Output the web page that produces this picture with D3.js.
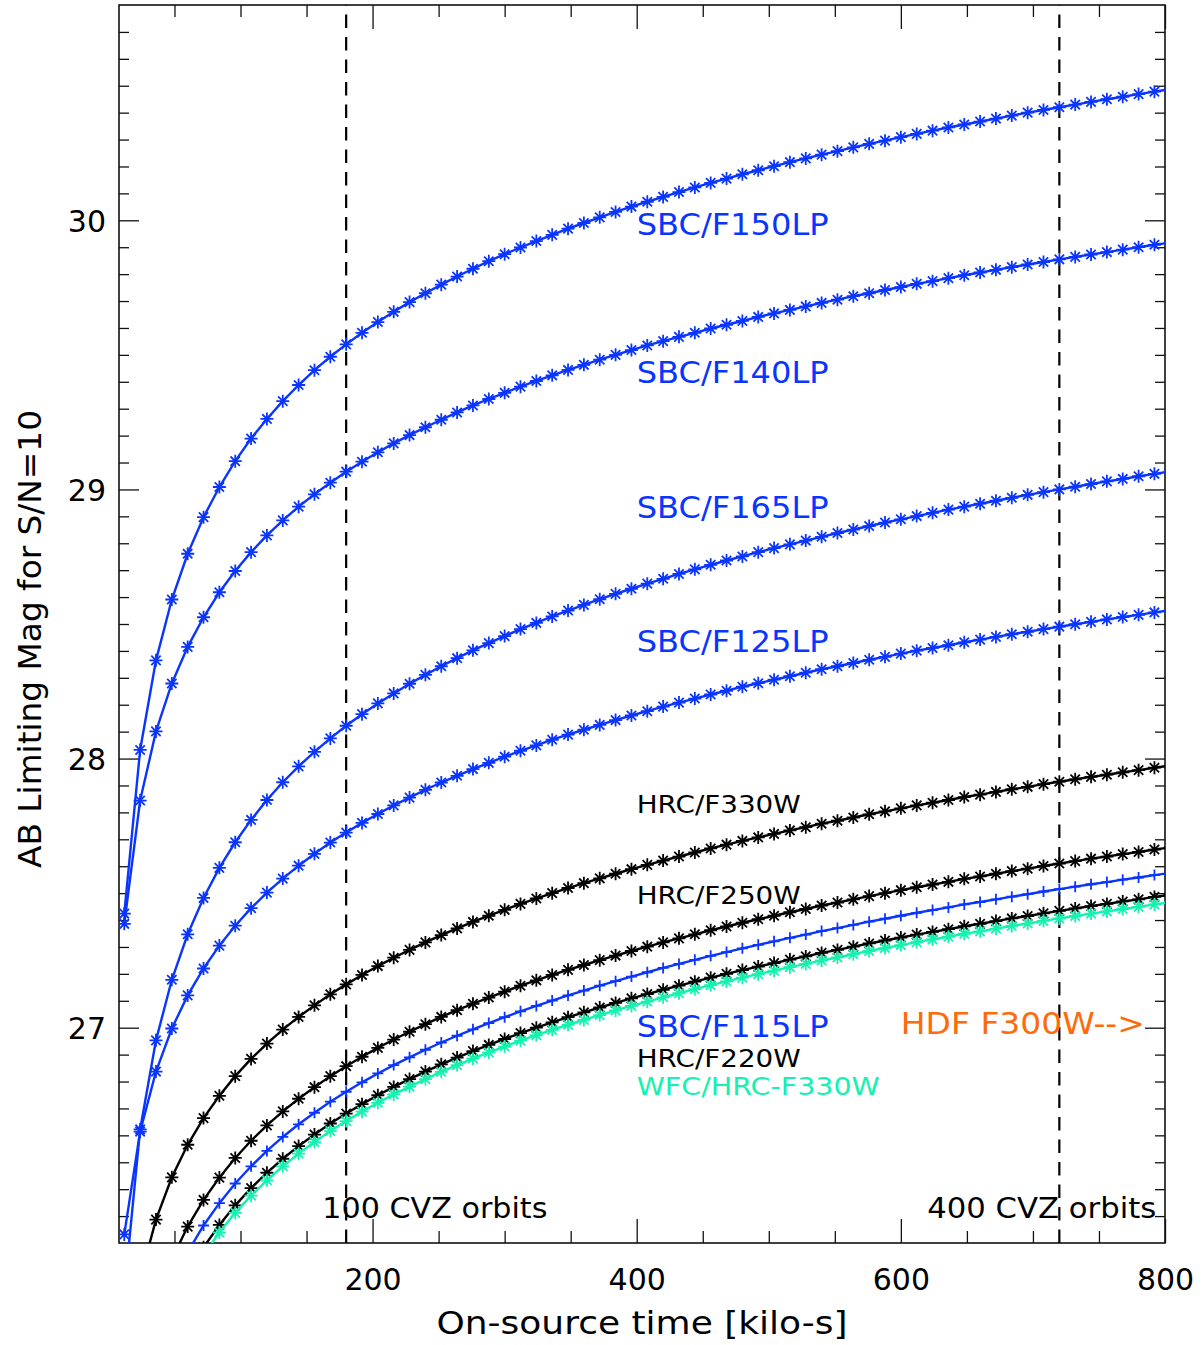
<!DOCTYPE html>
<html>
<head>
<meta charset="utf-8">
<script src="https://cdn.jsdelivr.net/npm/d3@7"></script>
<style>
  body { margin: 0; background: #fff; }
  text { font-family: "DejaVu Sans", sans-serif; }
</style>
</head>
<body>
<svg id="chart" width="1204" height="1345"></svg>
<script>
// on-source time of each plotted point, kilo-seconds
const times = [12,24,36,48,60,72,84,96,108,120,132,144,156,168,180,192,204,216,228,240,
  252,264,276,288,300,312,324,336,348,360,372,384,396,408,420,432,444,456,468,480,
  492,504,516,528,540,552,564,576,588,600,612,624,636,648,660,672,684,696,708,720,
  732,744,756,768,780,792,804];

// AB limiting magnitude (S/N=10) per filter
const sbcF150LP = [27.424,28.032,28.365,28.591,28.761,28.897,29.009,29.105,29.189,29.262,
  29.328,29.388,29.443,29.493,29.539,29.582,29.622,29.660,29.696,29.729,
  29.761,29.791,29.820,29.848,29.874,29.899,29.923,29.946,29.969,29.990,
  30.011,30.031,30.051,30.069,30.087,30.105,30.122,30.139,30.155,30.171,
  30.186,30.201,30.216,30.230,30.244,30.257,30.271,30.284,30.296,30.309,
  30.321,30.333,30.345,30.356,30.367,30.378,30.389,30.400,30.410,30.420,
  30.430,30.440,30.450,30.459,30.469,30.478,30.487];
const sbcF140LP = [27.386,27.844,28.101,28.279,28.415,28.525,28.618,28.697,28.767,28.829,
  28.885,28.936,28.982,29.025,29.066,29.103,29.138,29.171,29.202,29.231,
  29.259,29.286,29.312,29.336,29.359,29.382,29.403,29.424,29.444,29.463,
  29.482,29.500,29.518,29.535,29.551,29.567,29.582,29.598,29.612,29.626,
  29.641,29.654,29.667,29.680,29.693,29.705,29.718,29.729,29.741,29.752,
  29.764,29.774,29.785,29.796,29.806,29.816,29.826,29.836,29.845,29.855,
  29.864,29.873,29.882,29.891,29.900,29.909,29.917];
const sbcF165LP = [26.017,26.622,26.953,27.178,27.347,27.482,27.594,27.689,27.772,27.846,
  27.912,27.971,28.025,28.075,28.122,28.165,28.205,28.242,28.278,28.311,
  28.343,28.373,28.402,28.429,28.455,28.481,28.504,28.528,28.550,28.571,
  28.592,28.612,28.631,28.650,28.668,28.686,28.703,28.720,28.736,28.751,
  28.767,28.782,28.796,28.810,28.824,28.838,28.851,28.864,28.877,28.889,
  28.901,28.913,28.925,28.936,28.947,28.958,28.969,28.980,28.990,29.000,
  29.010,29.020,29.030,29.039,29.049,29.058,29.067];
const sbcF125LP = [26.232,26.614,26.837,26.997,27.120,27.220,27.305,27.379,27.444,27.502,
  27.554,27.602,27.646,27.688,27.725,27.761,27.794,27.826,27.855,27.884,
  27.911,27.936,27.961,27.984,28.007,28.029,28.049,28.070,28.089,28.107,
  28.125,28.143,28.160,28.176,28.193,28.208,28.223,28.238,28.252,28.267,
  28.280,28.293,28.306,28.319,28.332,28.343,28.355,28.367,28.378,28.390,
  28.401,28.411,28.421,28.432,28.442,28.452,28.462,28.471,28.481,28.490,
  28.499,28.508,28.517,28.526,28.534,28.543,28.551];
const hrcF330W = [25.691,26.067,26.287,26.444,26.565,26.664,26.747,26.820,26.884,26.941,
  26.993,27.040,27.083,27.124,27.161,27.196,27.229,27.260,27.289,27.317,
  27.344,27.369,27.393,27.416,27.438,27.460,27.480,27.500,27.519,27.537,
  27.555,27.572,27.589,27.605,27.621,27.636,27.651,27.666,27.680,27.694,
  27.707,27.720,27.733,27.745,27.758,27.769,27.781,27.793,27.804,27.815,
  27.826,27.836,27.846,27.857,27.866,27.876,27.886,27.895,27.905,27.914,
  27.923,27.932,27.940,27.949,27.957,27.966,27.974];
const hrcF250W = [25.387,25.763,25.983,26.140,26.261,26.360,26.443,26.516,26.580,26.637,
  26.689,26.736,26.779,26.820,26.857,26.892,26.925,26.956,26.985,27.013,
  27.040,27.065,27.089,27.112,27.134,27.156,27.176,27.196,27.215,27.233,
  27.251,27.268,27.285,27.301,27.317,27.332,27.347,27.362,27.376,27.390,
  27.403,27.416,27.429,27.441,27.454,27.465,27.477,27.489,27.500,27.511,
  27.522,27.532,27.542,27.553,27.562,27.572,27.582,27.591,27.601,27.610,
  27.619,27.628,27.636,27.645,27.653,27.662,27.670];
const sbcF115LP = [25.292,25.668,25.888,26.045,26.166,26.265,26.348,26.421,26.485,26.542,
  26.594,26.641,26.684,26.725,26.762,26.797,26.830,26.861,26.890,26.918,
  26.945,26.970,26.994,27.017,27.039,27.061,27.081,27.101,27.120,27.138,
  27.156,27.173,27.190,27.206,27.222,27.237,27.252,27.267,27.281,27.295,
  27.308,27.321,27.334,27.346,27.359,27.370,27.382,27.394,27.405,27.416,
  27.427,27.437,27.447,27.458,27.467,27.477,27.487,27.496,27.506,27.515,
  27.524,27.533,27.541,27.550,27.558,27.567,27.575];
const hrcF220W = [25.211,25.587,25.807,25.964,26.085,26.184,26.267,26.340,26.404,26.461,
  26.513,26.560,26.603,26.644,26.681,26.716,26.749,26.780,26.809,26.837,
  26.864,26.889,26.913,26.936,26.958,26.980,27.000,27.020,27.039,27.057,
  27.075,27.092,27.109,27.125,27.141,27.156,27.171,27.186,27.200,27.214,
  27.227,27.240,27.253,27.265,27.278,27.289,27.301,27.313,27.324,27.335,
  27.346,27.356,27.366,27.377,27.386,27.396,27.406,27.415,27.425,27.434,
  27.443,27.452,27.460,27.469,27.477,27.486,27.494];
const wfcHrcF330W = [25.183,25.559,25.779,25.936,26.057,26.156,26.239,26.312,26.376,26.433,
  26.485,26.532,26.575,26.616,26.653,26.688,26.721,26.752,26.781,26.809,
  26.836,26.861,26.885,26.908,26.930,26.952,26.972,26.992,27.011,27.029,
  27.047,27.064,27.081,27.097,27.113,27.128,27.143,27.158,27.172,27.186,
  27.199,27.212,27.225,27.237,27.250,27.261,27.273,27.285,27.296,27.307,
  27.318,27.328,27.338,27.349,27.358,27.368,27.378,27.387,27.397,27.406,
  27.415,27.424,27.432,27.441,27.449,27.458,27.466];

const xMajorTicks = [200, 400, 600, 800];
const xMinorTicks = [50, 100, 150, 250, 300, 350, 450, 500, 550, 650, 700, 750];
const yMajorTicks = [27, 28, 29, 30];
const orbitTimes = [180, 720];
const orbitLabels = ["100 CVZ orbits", "400 CVZ orbits"];

const blue = "#0a35ff", cyan = "#14f2b0", orange = "#ff6a0a";

const series = [
  {values: sbcF150LP, color: blue, sym: "ast"},
  {values: sbcF140LP, color: blue, sym: "ast"},
  {values: sbcF165LP, color: blue, sym: "ast"},
  {values: sbcF125LP, color: blue, sym: "ast"},
  {values: hrcF330W, color: "#000", sym: "ast"},
  {values: hrcF250W, color: "#000", sym: "ast"},
  {values: hrcF220W, color: "#000", sym: "ast"},
  {values: sbcF115LP, color: blue, sym: "plus"},
  {values: wfcHrcF330W, color: cyan, sym: "ast"}
];

const labels = [
  {text: "SBC/F150LP", t: 400, m: 29.945, color: blue, size: 30, len: 192},
  {text: "SBC/F140LP", t: 400, m: 29.394, color: blue, size: 30, len: 192},
  {text: "SBC/F165LP", t: 400, m: 28.893, color: blue, size: 30, len: 192},
  {text: "SBC/F125LP", t: 400, m: 28.397, color: blue, size: 30, len: 192},
  {text: "HRC/F330W", t: 400, m: 27.796, color: "#000", size: 24, len: 164},
  {text: "HRC/F250W", t: 400, m: 27.459, color: "#000", size: 24, len: 164},
  {text: "SBC/F115LP", t: 400, m: 26.966, color: blue, size: 30, len: 192},
  {text: "HRC/F220W", t: 400, m: 26.855, color: "#000", size: 24, len: 164},
  {text: "WFC/HRC-F330W", t: 400, m: 26.75, color: cyan, size: 24, len: 243},
  {text: "HDF F300W-->", t: 600, m: 26.976, color: orange, size: 30, len: 244}
];

const plot = {left: 119, right: 1165, top: 5, bottom: 1243};
const svg = d3.select("#chart");

const x = d3.scaleLinear().domain([8, 800]).range([plot.left, plot.right]);
const y = d3.scaleLinear().domain([26.2, 30.8]).range([plot.bottom, plot.top]);

svg.append("defs").append("clipPath").attr("id", "plotArea")
  .append("rect")
  .attr("x", plot.left).attr("y", plot.top)
  .attr("width", plot.right - plot.left).attr("height", plot.bottom - plot.top);

// axes, IDL style: ticks pointing inwards on all four sides
const yMinorTicks = d3.range(263, 308).map(v => v / 10).filter(v => !yMajorTicks.includes(v));

const addAxis = (gen, tx, ty) => {
  const g = svg.append("g").attr("transform", `translate(${tx},${ty})`).call(gen);
  g.select(".domain").remove();
  g.selectAll("line").attr("stroke", "#111").attr("stroke-width", 1.3);
  return g;
};

const bottomMajor = addAxis(d3.axisBottom(x).tickValues(xMajorTicks).tickSize(-24).tickPadding(26).tickFormat(d3.format("d")), 0, plot.bottom);
addAxis(d3.axisBottom(x).tickValues(xMinorTicks).tickSize(-12).tickFormat(""), 0, plot.bottom);
addAxis(d3.axisTop(x).tickValues(xMajorTicks).tickSize(-24).tickFormat(""), 0, plot.top);
addAxis(d3.axisTop(x).tickValues(xMinorTicks).tickSize(-12).tickFormat(""), 0, plot.top);
const leftMajor = addAxis(d3.axisLeft(y).tickValues(yMajorTicks).tickSize(-20).tickPadding(13).tickFormat(d3.format("d")), plot.left, 0);
addAxis(d3.axisLeft(y).tickValues(yMinorTicks).tickSize(-10).tickFormat(""), plot.left, 0);
addAxis(d3.axisRight(y).tickValues(yMajorTicks).tickSize(-20).tickFormat(""), plot.right, 0);
addAxis(d3.axisRight(y).tickValues(yMinorTicks).tickSize(-10).tickFormat(""), plot.right, 0);

[bottomMajor, leftMajor].forEach(g => g.selectAll("text")
  .style("font-family", "DejaVu Sans, sans-serif")
  .style("font-size", "30px")
  .attr("fill", "#000"));
leftMajor.selectAll("text").attr("dy", "0.36em");

svg.append("rect")
  .attr("x", plot.left).attr("y", plot.top)
  .attr("width", plot.right - plot.left).attr("height", plot.bottom - plot.top)
  .attr("fill", "none").attr("stroke", "#111").attr("stroke-width", 1.6);

// axis titles
svg.append("text")
  .attr("x", (plot.left + plot.right) / 2).attr("y", 1334)
  .attr("text-anchor", "middle")
  .style("font-size", "32px")
  .attr("textLength", 411).attr("lengthAdjust", "spacingAndGlyphs")
  .text("On-source time [kilo-s]");

svg.append("text")
  .attr("transform", "translate(41,639) rotate(-90)")
  .attr("text-anchor", "middle")
  .style("font-size", "32px")
  .attr("textLength", 458).attr("lengthAdjust", "spacingAndGlyphs")
  .text("AB Limiting Mag for S/N=10");

// CVZ orbit markers
const plotArea = svg.append("g").attr("clip-path", "url(#plotArea)");

plotArea.selectAll(".orbit")
  .data(orbitTimes)
  .enter().append("line")
  .attr("class", "orbit")
  .attr("x1", d => x(d)).attr("x2", d => x(d))
  .attr("y1", plot.bottom).attr("y2", plot.top)
  .attr("stroke", "#000").attr("stroke-width", 2.2)
  .attr("stroke-dasharray", "13.5,9");

svg.selectAll(".orbit-label")
  .data(orbitLabels)
  .enter().append("text")
  .attr("class", "orbit-label")
  .attr("x", (d, i) => x(orbitTimes[i] - (i === 0 ? 18 : 100)))
  .attr("y", y(26.292))
  .style("font-size", "29px")
  .attr("textLength", (d, i) => i === 0 ? 225 : 229)
  .attr("lengthAdjust", "spacingAndGlyphs")
  .text(d => d);

// curves and symbols
const line = d3.line().x((d, i) => x(times[i])).y(d => y(d));

const asterisk = (r) => {
  const k = r * 0.72;
  return `M${-r},0H${r}M0,${-r}V${r}M${-k},${-k}L${k},${k}M${-k},${k}L${k},${-k}`;
};
const plus = (r) => `M${-r},0H${r}M0,${-r}V${r}`;

series.forEach(s => {
  plotArea.append("path")
    .datum(s.values)
    .attr("d", line)
    .attr("fill", "none")
    .attr("stroke", s.color)
    .attr("stroke-width", 2.4);

  plotArea.append("g").selectAll("path")
    .data(s.values)
    .enter().append("path")
    .attr("transform", (d, i) => `translate(${x(times[i])},${y(d)})`)
    .attr("d", s.sym === "plus" ? plus(5.5) : asterisk(6.5))
    .attr("fill", "none")
    .attr("stroke", s.color)
    .attr("stroke-width", 1.8);
});

// curve labels
svg.selectAll(".curve-label")
  .data(labels)
  .enter().append("text")
  .attr("class", "curve-label")
  .attr("x", d => x(d.t))
  .attr("y", d => y(d.m))
  .attr("fill", d => d.color)
  .style("font-size", d => d.size + "px")
  .attr("textLength", d => d.len)
  .attr("lengthAdjust", "spacingAndGlyphs")
  .text(d => d.text);
</script>
</body>
</html>
